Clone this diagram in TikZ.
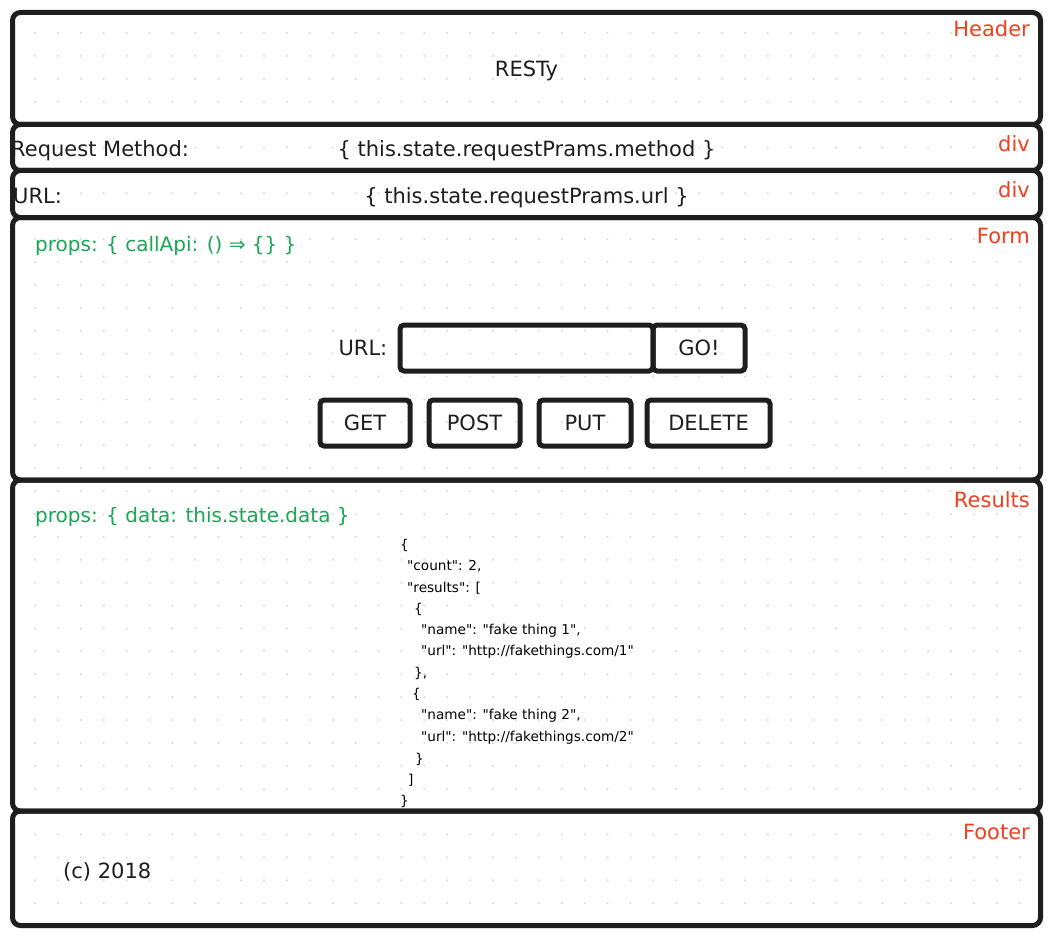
\documentclass[tikz,border=0pt]{standalone}
\usepackage{fontspec}
\setmainfont{DejaVu Sans}
\newfontfamily\jsonfont{DejaVu Sans}
\usepackage{tikz}
\usetikzlibrary{positioning,calc}
\definecolor{inkDark}{HTML}{1E1E1E}
\definecolor{tagRed}{HTML}{F0401E}
\definecolor{propsGreen}{HTML}{1AA653}
\definecolor{dotGrey}{HTML}{DADADA}
\tikzstyle{wireBox}=[draw=inkDark,line width=5pt,rounded corners=8pt,rectangle,minimum width=1028pt,inner sep=0pt]
\tikzstyle{tagLabel}=[text=tagRed,anchor=east,inner sep=0pt,font=\fontsize{21}{25}\selectfont]
\tikzstyle{propsText}=[text=propsGreen,anchor=west,inner sep=0pt,font=\fontsize{20}{24}\selectfont]
\tikzstyle{plainText}=[text=inkDark,inner sep=0pt,font=\fontsize{21}{25}\selectfont]
\tikzstyle{buttonBox}=[draw=inkDark,line width=5pt,rounded corners=4pt,rectangle,minimum height=46pt,inner sep=0pt,text=inkDark,font=\fontsize{21}{25}\selectfont]
\tikzstyle{jsonText}=[text=black,anchor=west,inner sep=0pt,font=\jsonfont\fontsize{13.6}{16}\selectfont]

\begin{document}
\begin{tikzpicture}[x=1pt,y=-1pt]
  \useasboundingbox[fill=white] (0,0) rectangle (1051,936);
  % dot grid
  \foreach \i in {0,...,43}
    \foreach \j in {0,...,38}
      \fill[dotGrey] (35+22.9*\i,33+22.9*\j) circle (1.1pt);

  % page sections
  \node [wireBox,minimum height=112pt,anchor=north west] (header) at (10,10) {};
  \node [wireBox,minimum height=46pt,below=-5pt of header] (methodDiv) {};
  \node [wireBox,minimum height=47pt,below=-5pt of methodDiv] (urlDiv) {};
  \node [wireBox,minimum height=262.5pt,below=-5pt of urlDiv] (form) {};
  \node [wireBox,minimum height=331pt,below=-5pt of form] (results) {};
  \node [wireBox,minimum height=114.5pt,below=-5pt of results] (footer) {};

  % section tags
  \node [tagLabel] (headerTag) at ([shift={(-13pt,-19pt)}]header.north east) {Header};
  \node [tagLabel] (methodTag) at ([shift={(-13pt,-22pt)}]methodDiv.north east) {div};
  \node [tagLabel] (urlTag) at ([shift={(-13pt,-22pt)}]urlDiv.north east) {div};
  \node [tagLabel] (formTag) at ([shift={(-13pt,-21pt)}]form.north east) {Form};
  \node [tagLabel] (resultsTag) at ([shift={(-13pt,-22pt)}]results.north east) {Results};
  \node [tagLabel] (footerTag) at ([shift={(-13pt,-23pt)}]footer.north east) {Footer};

  % header and state
  \node [plainText] (title) at ([yshift=-2pt]header.center) {RESTy};
  \node [plainText,anchor=west] (methodLabel) at ([shift={(1pt,-3pt)}]methodDiv.west) {Request Method:};
  \node [plainText] (methodValue) at ([yshift=-3pt]methodDiv.center) {\{ this.state.requestPrams.method \}};
  \node [plainText,anchor=west] (urlLabel) at ([shift={(3pt,-2pt)}]urlDiv.west) {URL:};
  \node [plainText] (urlValue) at ([yshift=-4pt]urlDiv.center) {\{ this.state.requestPrams.url \}};

  % form
  \node [propsText] (formProps) at ([shift={(25pt,-31pt)}]form.north west) {props: \{ callApi: () ⇒ \{\} \}};
  \node [buttonBox,minimum width=253pt] (urlInput) at (526.5,348) {};
  \node [buttonBox,minimum width=92pt,right=-5pt of urlInput] (goButton) {GO!};
  \node [plainText,left=10pt of urlInput] (urlPrompt) {URL:};
  \node [buttonBox,minimum width=90pt] (getButton) at (365,423) {GET};
  \node [buttonBox,minimum width=91pt,right=14pt of getButton] (postButton) {POST};
  \node [buttonBox,minimum width=92pt,right=14pt of postButton] (putButton) {PUT};
  \node [buttonBox,minimum width=123pt,right=11pt of putButton] (deleteButton) {DELETE};

  % results
  \node [propsText] (resultsProps) at ([shift={(25pt,-39pt)}]results.north west) {props: \{ data: this.state.data \}};
  \foreach \dx/\txt [count=\k from 0] in {
      0/{\{},
      7/{"count": 2,},
      7/{"results": [},
      14/{\{},
      21/{"name": "fake thing 1",},
      21/{"url": "http://fakethings.com/1"},
      14/{\},},
      12/{\{},
      21/{"name": "fake thing 2",},
      21/{"url": "http://fakethings.com/2"},
      15/{\}},
      8/{]},
      0/{\}}}
    \node [jsonText] (json\k) at (400+\dx,545+21.4*\k) {\txt};

  % footer
  \node [plainText,anchor=west] (copyright) at ([shift={(53pt,-63pt)}]footer.north west) {(c) 2018};
\end{tikzpicture}
\end{document}
